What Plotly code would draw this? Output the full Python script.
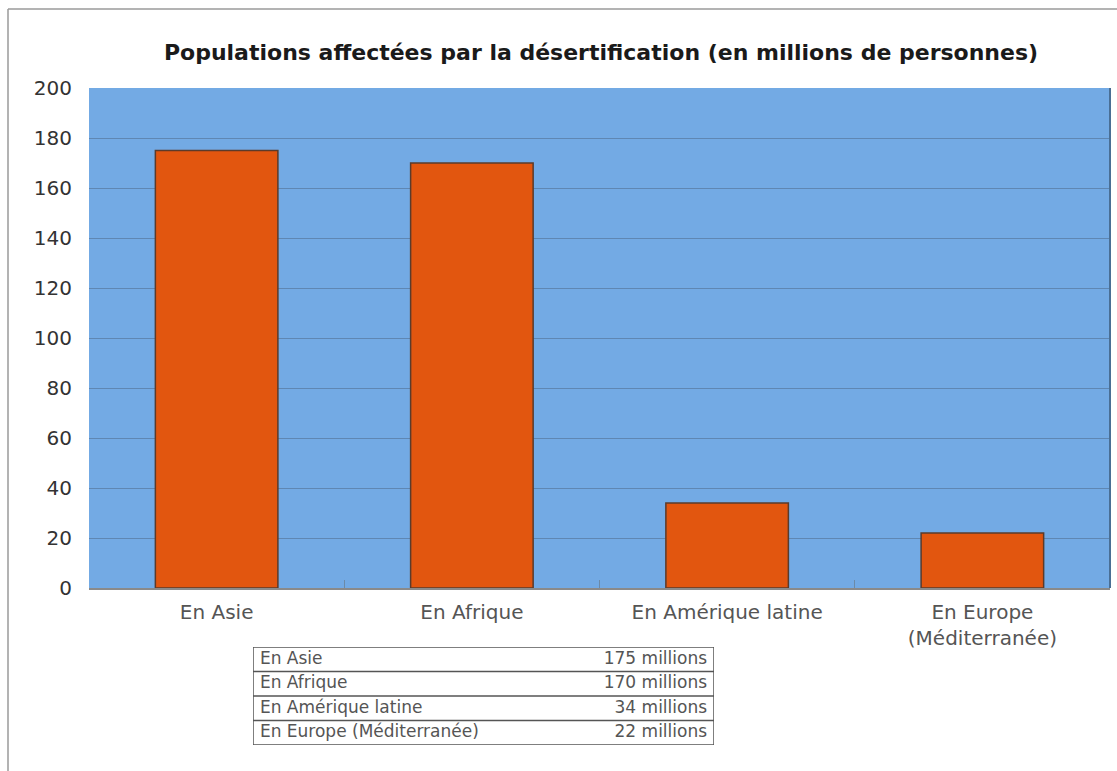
import plotly.graph_objects as go

title = "Populations affectées par la désertification (en millions de personnes)"
categories = ["En Asie", "En Afrique", "En Amérique latine", "En Europe<br>(Méditerranée)"]
values = [175, 170, 34, 22]
table_labels = ["En Asie", "En Afrique", "En Amérique latine", "En Europe (Méditerranée)"]
table_values = ["175 millions", "170 millions", "34 millions", "22 millions"]
y_ticks = [0, 20, 40, 60, 80, 100, 120, 140, 160, 180, 200]

W, H = 1117, 771
fig = go.Figure()

fig.add_trace(go.Bar(
    x=categories, y=values,
    marker=dict(color="#E2560F", line=dict(color="#5b3b2b", width=1.5)),
    width=0.48, showlegend=False, hoverinfo="skip",
))

rows = list(range(len(table_labels)))
fig.add_trace(go.Scatter(
    x=[0.015] * len(rows), y=[r + 0.5 for r in rows], text=table_labels,
    mode="text", textposition="middle right",
    textfont=dict(family="DejaVu Sans", size=17, color="#555555"),
    xaxis="x2", yaxis="y2", showlegend=False, hoverinfo="skip",
))
fig.add_trace(go.Scatter(
    x=[0.985] * len(rows), y=[r + 0.5 for r in rows], text=table_values,
    mode="text", textposition="middle left",
    textfont=dict(family="DejaVu Sans", size=17, color="#555555"),
    xaxis="x2", yaxis="y2", showlegend=False, hoverinfo="skip",
))

shapes = []
# blue plot background (main chart only)
shapes.append(dict(type="rect", xref="x domain", yref="y domain", x0=0, x1=1, y0=0, y1=1,
                   fillcolor="#73AAE4", line=dict(width=0), layer="below"))
# table border and row separators
shapes.append(dict(type="rect", xref="x2", yref="y2", x0=0, x1=1, y0=0, y1=len(rows),
                   line=dict(color="#555555", width=1.5)))
for r in rows[1:]:
    shapes.append(dict(type="line", xref="x2", yref="y2", x0=0, x1=1, y0=r, y1=r,
                       line=dict(color="#555555", width=1.5)))
# right edge of plot
shapes.append(dict(type="line", xref="x domain", yref="y domain", x0=1, x1=1, y0=0, y1=1,
                   line=dict(color="#4a6f95", width=2)))
# outer frame
shapes.append(dict(type="line", xref="paper", yref="paper", x0=8 / W, x1=1, y0=1 - 9 / H, y1=1 - 9 / H,
                   line=dict(color="#9a9a9a", width=1.5)))
shapes.append(dict(type="line", xref="paper", yref="paper", x0=8 / W, x1=8 / W, y0=0, y1=1 - 9 / H,
                   line=dict(color="#9a9a9a", width=1.5)))

fig.update_layout(
    width=W, height=H,
    margin=dict(l=0, r=0, t=0, b=0),
    paper_bgcolor="white",
    plot_bgcolor="white",
    title=dict(text="<b>" + title + "</b>", x=601 / W, xanchor="center", y=1 - 52 / H, yanchor="middle",
               font=dict(family="DejaVu Sans", size=22, color="#1a1a1a")),
    xaxis=dict(domain=[89 / W, 1110 / W], showgrid=False, ticks="inside", tickson="boundaries",
               ticklen=8, tickcolor="#6b8aa8", showline=True, linecolor="#8a8a8a", linewidth=1.5,
               automargin=False, ticklabelstandoff=5,
               tickfont=dict(family="DejaVu Sans", size=20, color="#555555"), fixedrange=True),
    yaxis=dict(domain=[1 - 588 / H, 1 - 88 / H], range=[0, 200], tickvals=y_ticks,
               showgrid=True, gridcolor="#5f87b3", gridwidth=1, zeroline=False,
               showline=False, ticks="", ticklabelstandoff=16, automargin=False,
               tickfont=dict(family="DejaVu Sans", size=20, color="#333333")),
    xaxis2=dict(domain=[253 / W, 714 / W], range=[0, 1], visible=False, anchor="y2"),
    yaxis2=dict(domain=[1 - 745 / H, 1 - 647 / H], range=[len(rows), 0], visible=False, anchor="x2"),
    shapes=shapes,
    bargap=0.52,
)

fig.write_html("out.html")
